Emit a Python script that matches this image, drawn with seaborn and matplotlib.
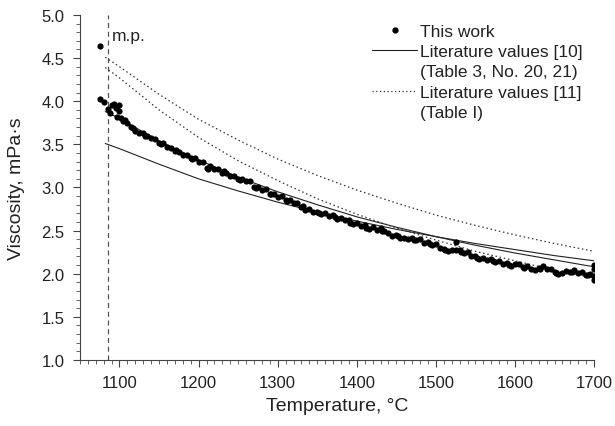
import numpy as np
import pandas as pd
import matplotlib
matplotlib.use("Agg")
import matplotlib.pyplot as plt
from matplotlib.lines import Line2D
from matplotlib.ticker import MultipleLocator, FormatStrFormatter
import seaborn as sns

# measured viscosity, this work (every 5 degC from 1075 to 1700)
temp_meas = np.arange(1075, 1705, 5)
visc_meas = [4.02, 3.99, 3.91, 3.96, 3.92, 3.89, 3.77, 3.75, 3.70, 3.66,
             3.63, 3.63, 3.60, 3.57, 3.56, 3.51, 3.51, 3.47, 3.46, 3.42,
             3.41, 3.38, 3.38, 3.34, 3.34, 3.30, 3.30, 3.23, 3.25, 3.22,
             3.22, 3.17, 3.17, 3.13, 3.13, 3.10, 3.10, 3.07, 3.07, 3.00,
             3.00, 2.97, 2.98, 2.93, 2.93, 2.89, 2.90, 2.86, 2.86, 2.82,
             2.82, 2.77, 2.74, 2.75, 2.71, 2.72, 2.69, 2.70, 2.67, 2.68,
             2.64, 2.65, 2.62, 2.62, 2.58, 2.59, 2.55, 2.56, 2.52, 2.54,
             2.51, 2.53, 2.50, 2.47, 2.44, 2.45, 2.42, 2.42, 2.40, 2.41,
             2.39, 2.40, 2.36, 2.37, 2.33, 2.34, 2.30, 2.29, 2.26, 2.28,
             2.27, 2.28, 2.24, 2.25, 2.21, 2.21, 2.17, 2.18, 2.16, 2.17,
             2.14, 2.15, 2.11, 2.12, 2.09, 2.11, 2.11, 2.08, 2.09, 2.06,
             2.04, 2.07, 2.09, 2.06, 2.05, 2.02, 2.00, 2.01, 2.03, 2.02,
             2.04, 2.01, 2.02, 1.99, 2.00, 1.97]
# scattered extra points (outliers, start region, in-between readings, end bar)
temp_extra = [1075, 1088, 1093, 1097, 1099, 1102, 1107, 1526, 1700, 1700, 1700,
              1117, 1132, 1152, 1172, 1192, 1212, 1232, 1252, 1272, 1292,
              1312, 1332, 1352, 1372, 1392, 1412, 1432, 1452, 1472, 1492,
              1512, 1532, 1552, 1572, 1592, 1612, 1632, 1652, 1672, 1692]
visc_extra = [4.64, 3.86, 3.97, 3.82, 3.96, 3.80, 3.78, 2.37, 2.10, 2.05, 1.93,
              3.69, 3.60, 3.50, 3.44, 3.33, 3.21, 3.19, 3.09, 2.99, 2.92,
              2.84, 2.78, 2.70, 2.66, 2.59, 2.53, 2.50, 2.44, 2.39, 2.35,
              2.27, 2.25, 2.18, 2.15, 2.10, 2.07, 2.05, 2.01, 2.02, 1.99]

# literature curves
temp_lit = [1082, 1100, 1150, 1200, 1250, 1300, 1350, 1400, 1450, 1500,
            1550, 1600, 1650, 1700]
lit10_no20 = [3.51, 3.45, 3.27, 3.10, 2.96, 2.83, 2.715, 2.61, 2.515, 2.43,
              2.35, 2.28, 2.21, 2.15]
lit10_no21 = [3.88, 3.80, 3.54, 3.32, 3.12, 2.95, 2.80, 2.66, 2.54, 2.43,
              2.33, 2.24, 2.16, 2.08]
lit11_a = [4.51, 4.40, 4.08, 3.79, 3.55, 3.33, 3.14, 2.97, 2.82, 2.68,
           2.56, 2.45, 2.35, 2.26]
lit11_b = [4.39, 4.27, 3.90, 3.58, 3.31, 3.08, 2.87, 2.69, 2.53, 2.39,
           2.26, 2.15, 2.04, 1.95]

melting_point = 1085

sns.set_style("ticks")
plt.rcParams['font.family'] = ['Liberation Sans', 'DejaVu Sans']

fig = plt.figure(figsize=(6.15, 4.27), dpi=100)
ax = fig.add_axes([0.130, 0.1546, 0.836, 0.808])

meas = pd.DataFrame({"T": np.concatenate([temp_meas, temp_extra]),
                     "V": list(visc_meas) + visc_extra})
sns.scatterplot(data=meas, x="T", y="V", ax=ax, color="black", s=20,
                linewidth=0, zorder=3)

for vals in (lit10_no20, lit10_no21):
    sns.lineplot(x=temp_lit, y=vals, ax=ax, color="#222222", lw=0.8,
                 estimator=None, sort=False)
for vals in (lit11_a, lit11_b):
    sns.lineplot(x=temp_lit, y=vals, ax=ax, color="#333333", lw=0.9,
                 estimator=None, sort=False, linestyle=(0, (1.2, 2.2)))

ax.axvline(melting_point, color="#555555", lw=0.9, linestyle=(0, (4, 3)), zorder=1)
ax.text(melting_point + 5, 4.76, "m.p.", fontsize=12.5, color="#222222",
        va="center", ha="left")

ax.set_xlim(1050, 1700)
ax.set_ylim(1.0, 5.0)
ax.xaxis.set_major_locator(MultipleLocator(100))
ax.xaxis.set_minor_locator(MultipleLocator(10))
ax.yaxis.set_major_locator(MultipleLocator(0.5))
ax.yaxis.set_minor_locator(MultipleLocator(0.1))
ax.yaxis.set_major_formatter(FormatStrFormatter("%.1f"))
ax.set_xticks([1100, 1200, 1300, 1400, 1500, 1600, 1700])
ax.tick_params(axis="both", which="major", direction="out", length=5,
               width=0.8, color="#444444", labelsize=12, labelcolor="#222222",
               pad=6)
ax.tick_params(axis="both", which="minor", direction="out", length=3,
               width=0.7, color="#666666")
for sp in ("top", "right"):
    ax.spines[sp].set_visible(False)
for sp in ("left", "bottom"):
    ax.spines[sp].set_color("#444444")
    ax.spines[sp].set_linewidth(0.8)

ax.set_xlabel("Temperature, °C", fontsize=14, color="#222222", labelpad=5)
ax.set_ylabel("Viscosity, mPa·s", fontsize=14, color="#222222", labelpad=12)

blank = Line2D([], [], linestyle="none")
handles = [Line2D([], [], marker="o", color="black", markersize=3.5, linestyle="none"),
           Line2D([], [], color="#222222", lw=0.8),
           blank,
           Line2D([], [], color="#333333", lw=0.9, linestyle=(0, (1, 2))),
           blank]
labels = ["This work", "Literature values [10]", "(Table 3, No. 20, 21)",
          "Literature values [11]", "(Table I)"]
ax.legend(handles, labels, loc="upper left", bbox_to_anchor=(0.568, 0.975),
          frameon=False, fontsize=12.5, handlelength=2.6, handletextpad=0.15,
          labelspacing=0.3, borderpad=0, borderaxespad=0, labelcolor="#222222")

fig.savefig("out.png", dpi=100)
